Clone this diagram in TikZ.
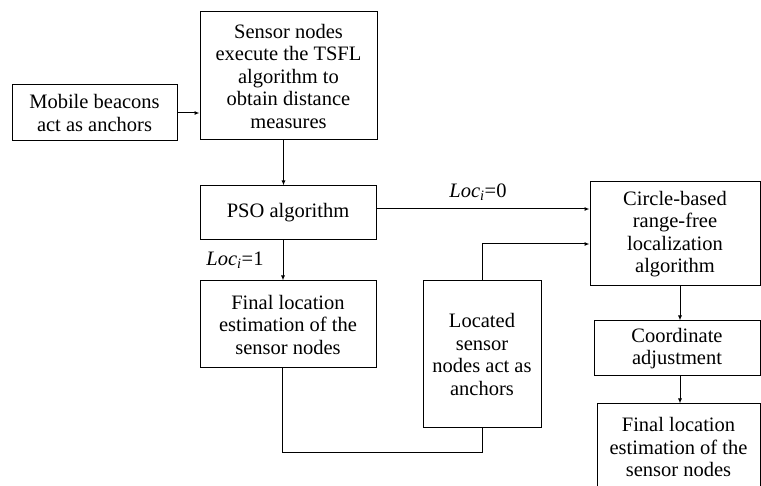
\documentclass[tikz,border=0pt]{standalone}
\usepackage{fontspec}
\setmainfont{Liberation Serif}
\usetikzlibrary{arrows.meta}
\tikzset{
  box/.style={draw, line width=1pt, align=center, inner sep=0pt,
    font=\fontsize{20.5}{22.5}\selectfont},
  lbl/.style={font=\fontsize{20.5}{22}\selectfont, inner sep=0pt},
}
\begin{document}
\begin{tikzpicture}[x=1pt, y=-1pt, line width=1pt, >={Latex[length=5pt,width=4pt]}]
	\useasboundingbox (0,0) rectangle (761,486);
	\clip (0,0) rectangle (761,486);
	% left column
	\node[box, minimum width=165, minimum height=56] (mob) at (94.5,113) {Mobile beacons\\act as anchors};
	\node[box, minimum width=177, minimum height=128] (tsfl) at (288.5,76) {Sensor nodes\\execute the TSFL\\algorithm to\\obtain distance\\measures};
	\node[box, minimum width=176, minimum height=54] (pso) at (288,213) {PSO algorithm};
	\node[box, minimum width=176, minimum height=87] (finL) at (288,324.5) {Final location\\estimation of the\\sensor nodes};
	\node[box, minimum width=118, minimum height=147] (loc) at (482,354.5) {Located\\sensor\\nodes act as\\anchors};
	% right column
	\node[box, minimum width=170, minimum height=104] (circ) at (675,234) {Circle-based\\range-free\\localization\\algorithm};
	\node[box, minimum width=166, minimum height=55] (coord) at (677,348.5) {Coordinate\\adjustment};
	\node[box, minimum width=163, minimum height=86] (finR) at (678.5,447) {Final location\\estimation of the\\sensor nodes};
	\node[lbl] (lab0) at (478,192) {\textit{Loc}\textsubscript{\textit{i}}=0};
	\node[lbl] (lab1) at (235,260) {\textit{Loc}\textsubscript{\textit{i}}=1};
	\coordinate (t1) at ([xshift=-5pt]tsfl.south);
	\coordinate (p1) at ([xshift=-5pt]pso.south);
	\coordinate (f1) at ([xshift=-6pt]finL.south);
	\coordinate (l0) at ([yshift=4pt]pso.east);
	\coordinate (c1) at ([xshift=5pt]circ.south);
	\coordinate (d1) at ([xshift=3pt]coord.south);
	\draw[->] (mob.east) -- (mob.east -| tsfl.west);
	\draw[->] (t1) -- (t1 |- pso.north);
	\draw[->] (p1) -- (p1 |- finL.north);
	\draw[->] (l0) -- (l0 -| circ.west);
	\draw[->] (loc.north) |- ([yshift=-10pt]circ.west);
	\draw (f1) -- ++(0,84) -| (loc.south);
	\draw[->] (c1) -- (c1 |- coord.north);
	\draw[->] (d1) -- (d1 |- finR.north);
\end{tikzpicture}
\end{document}
